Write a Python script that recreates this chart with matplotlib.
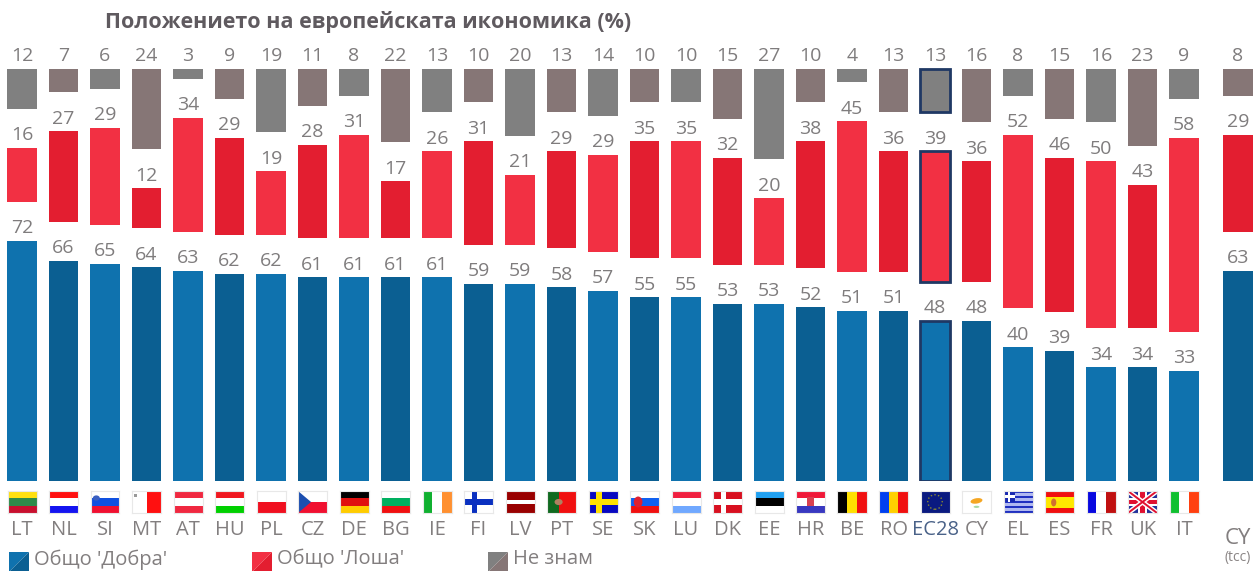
import numpy as np
import matplotlib
matplotlib.use('Agg')
import matplotlib.pyplot as plt
from matplotlib.patches import Polygon, Rectangle, Circle, Ellipse

plt.rcParams['font.family'] = ['Open Sans', 'DejaVu Sans']

# data
countries = ['LT', 'NL', 'SI', 'MT', 'AT', 'HU', 'PL', 'CZ', 'DE', 'BG', 'IE', 'FI', 'LV', 'PT', 'SE',
             'SK', 'LU', 'DK', 'EE', 'HR', 'BE', 'RO', 'EC28', 'CY', 'EL', 'ES', 'FR', 'UK', 'IT', 'CY']
good = [72, 66, 65, 64, 63, 62, 62, 61, 61, 61, 61, 59, 59, 58, 57,
        55, 55, 53, 53, 52, 51, 51, 48, 48, 40, 39, 34, 34, 33, 63]
bad = [16, 27, 29, 12, 34, 29, 19, 28, 31, 17, 26, 31, 21, 29, 29,
       35, 35, 32, 20, 38, 45, 36, 39, 36, 52, 46, 50, 43, 58, 29]
dont_know = [12, 7, 6, 24, 3, 9, 19, 11, 8, 22, 13, 10, 20, 13, 14,
             10, 10, 15, 27, 10, 4, 13, 13, 16, 8, 15, 16, 23, 9, 8]
title = 'Положението на европейската икономика (%)'
legend_labels = ["Общо 'Добра'", "Общо 'Лоша'", 'Не знам']

W, H = 1256, 571
BASE = 481      # y пиксел на нулата
SCALE = 3.34    # пиксела за 1%
PITCH = 41.5
X0 = 22
GAP = 39 / SCALE
TXT = '#7f7c7d'
NAVY = '#1f3864'

BLUE = ['#0f72ae', '#0b5f92']
RED = ['#f23043', '#e31e30']
GREY = ['#808080', '#867676']

fig = plt.figure(figsize=(W / 100, H / 100), dpi=100, facecolor='white')
ax = fig.add_axes([0, (H - BASE) / H, 1, BASE / H])
ax.set_xlim(-X0 / PITCH, (W - X0) / PITCH)
ax.set_ylim(0, BASE / SCALE)
for s in ax.spines.values():
    s.set_visible(False)
ax.yaxis.set_visible(False)

# последната колона (CY tcc) е отделена от останалите
x = np.arange(len(countries), dtype=float)
x[-1] = 29.3
good_a = np.array(good)
bad_a = np.array(bad)
dk_a = np.array(dont_know)
bad_bottom = good_a + GAP
dk_bottom = good_a + bad_a + 2 * GAP
EC = countries.index('EC28')

for i in range(len(x)):
    k = i % 2
    edge = NAVY if i == EC else 'none'
    lw = 2 if i == EC else 0
    ax.bar(x[i], good[i], width=0.71, color=BLUE[k], edgecolor=edge, linewidth=lw)
    ax.bar(x[i], bad[i], bottom=bad_bottom[i], width=0.71, color=RED[k], edgecolor=edge, linewidth=lw)
    ax.bar(x[i], dont_know[i], bottom=dk_bottom[i], width=0.71, color=GREY[k], edgecolor=edge, linewidth=lw)
    for v, b in ((good[i], 0), (bad[i], bad_bottom[i]), (dont_know[i], dk_bottom[i])):
        ax.annotate(str(v), (x[i], b + v), xytext=(0, 5.5), textcoords='offset points',
                    ha='center', va='baseline', fontsize=14, color=TXT)

# подписи
ax.set_xticks(x)
ax.set_xticklabels(countries, fontsize=14.5, color='#827e7f')
ax.tick_params(axis='x', length=0, pad=28)
ax.get_xticklabels()[EC].set_color('#4a6288')
ax.xaxis.get_major_ticks()[-1].set_pad(34)
ax.get_xticklabels()[-1].set_fontsize(16)
ax.annotate('(tcc)', (x[-1], 0), xytext=(0, -55), textcoords='offset points',
            ha='center', va='center', fontsize=10, color='#8a8585', annotation_clip=False)


def stripes(f, cols, vert=False):
    n = len(cols)
    for j, c in enumerate(cols):
        if vert:
            f.add_patch(Rectangle((j / n, 0), 1 / n, 1, color=c, lw=0))
        else:
            f.add_patch(Rectangle((0, 1 - (j + 1) / n), 1, 1 / n, color=c, lw=0))


def cross(f, col, cx=0.36, t=0.2):
    f.add_patch(Rectangle((cx - t / 2, 0), t, 1, color=col, lw=0))
    f.add_patch(Rectangle((0, 0.5 - t * 0.7), 1, t * 1.4, color=col, lw=0))


def draw_flag(f, code):
    if code == 'LT':
        stripes(f, ['#ffe010', '#2e8b4a', '#c8102e'])
    elif code == 'NL':
        stripes(f, ['#ff1010', 'white', '#1414f0'])
    elif code == 'SI':
        stripes(f, ['white', '#1050e0', '#f01030'])
        f.add_patch(Circle((0.2, 0.68), 0.12, color='#3a5fc0', lw=0))
    elif code == 'MT':
        stripes(f, ['white', '#ff1010'], vert=True)
        f.add_patch(Rectangle((0.08, 0.74), 0.1, 0.14, color='#999999', lw=0))
    elif code == 'AT':
        stripes(f, ['#f02840', 'white', '#f02840'])
    elif code == 'HU':
        stripes(f, ['#f01820', 'white', '#00d000'])
    elif code == 'PL':
        stripes(f, ['white', '#f01020'])
    elif code == 'CZ':
        stripes(f, ['white', '#f01030'])
        f.add_patch(Polygon([(0, 0), (0, 1), (0.45, 0.5)], color='#1c4fb0', lw=0))
    elif code == 'DE':
        stripes(f, ['black', '#e01010', '#ffcc00'])
    elif code == 'BG':
        stripes(f, ['white', '#00b060', '#f01010'])
    elif code == 'IE':
        stripes(f, ['#10b030', 'white', '#ff9030'], vert=True)
    elif code == 'FI':
        stripes(f, ['white'])
        cross(f, '#0a30c0')
    elif code == 'LV':
        f.add_patch(Rectangle((0, 0), 1, 1, color='#990000', lw=0))
        f.add_patch(Rectangle((0, 0.42), 1, 0.16, color='white', lw=0))
    elif code == 'PT':
        f.add_patch(Rectangle((0, 0), 1, 1, color='#f01010', lw=0))
        f.add_patch(Rectangle((0, 0), 0.4, 1, color='#106a20', lw=0))
        f.add_patch(Circle((0.4, 0.5), 0.14, color='#b08060', lw=0))
    elif code == 'SE':
        stripes(f, ['#0808c0'])
        cross(f, '#ffe000')
    elif code == 'SK':
        stripes(f, ['white', '#1060f0', '#f01010'])
        f.add_patch(Ellipse((0.28, 0.5), 0.3, 0.5, color='#e02030', lw=0))
    elif code == 'LU':
        stripes(f, ['#f02040', 'white', '#70a8ff'])
    elif code == 'DK':
        stripes(f, ['#d81020'])
        cross(f, 'white')
    elif code == 'EE':
        stripes(f, ['#20a0f0', 'black', 'white'])
    elif code == 'HR':
        stripes(f, ['#f01838', 'white', '#3838c0'])
        f.add_patch(Rectangle((0.38, 0.3), 0.24, 0.45, color='#d84050', lw=0))
    elif code == 'BE':
        stripes(f, ['black', '#ffe000', '#f01010'], vert=True)
    elif code == 'RO':
        stripes(f, ['#0040f0', '#ffd000', '#f01010'], vert=True)
    elif code == 'EC28':
        stripes(f, ['#0a1a80'])
        f.add_patch(Ellipse((0.5, 0.5), 0.5, 0.66, fill=False, ec='#8a8a30', lw=1, ls=':'))
    elif code == 'CY':
        stripes(f, ['white'])
        f.add_patch(Ellipse((0.5, 0.55), 0.42, 0.24, angle=15, color='#f5a623', lw=0))
        f.add_patch(Ellipse((0.5, 0.28), 0.2, 0.1, color='#a8d8a0', lw=0))
    elif code == 'EL':
        stripes(f, ['#2030c0', '#b0b8f0'] * 4 + ['#2030c0'])
        f.add_patch(Rectangle((0, 0.5), 0.4, 0.5, color='#1828b0', lw=0))
        f.add_patch(Rectangle((0.16, 0.5), 0.08, 0.5, color='white', lw=0))
        f.add_patch(Rectangle((0, 0.7), 0.4, 0.1, color='white', lw=0))
    elif code == 'ES':
        f.add_patch(Rectangle((0, 0), 1, 1, color='#f01010', lw=0))
        f.add_patch(Rectangle((0, 0.25), 1, 0.5, color='#ffe800', lw=0))
        f.add_patch(Ellipse((0.3, 0.48), 0.18, 0.36, color='#d07030', lw=0))
    elif code == 'FR':
        stripes(f, ['#0808e0', 'white', '#c01010'], vert=True)
    elif code == 'UK':
        stripes(f, ['#20309a'])
        f.plot([0, 1], [0, 1], color='white', lw=3.5, solid_capstyle='butt')
        f.plot([0, 1], [1, 0], color='white', lw=3.5, solid_capstyle='butt')
        f.plot([0, 1], [0, 1], color='#e01030', lw=1.4, solid_capstyle='butt')
        f.plot([0, 1], [1, 0], color='#e01030', lw=1.4, solid_capstyle='butt')
        f.add_patch(Rectangle((0.36, 0), 0.28, 1, color='white', lw=0))
        f.add_patch(Rectangle((0, 0.32), 1, 0.36, color='white', lw=0))
        f.add_patch(Rectangle((0.42, 0), 0.16, 1, color='#e01030', lw=0))
        f.add_patch(Rectangle((0, 0.4), 1, 0.2, color='#e01030', lw=0))
    elif code == 'IT':
        stripes(f, ['#10c030', 'white', '#ff4010'], vert=True)


# знамена - без последната колона
for i, code in enumerate(countries[:-1]):
    left = (X0 + PITCH * i - 14.5) / W
    f = fig.add_axes([left, (H - 513) / H, 29 / W, 22 / H])
    f.set_xlim(0, 1)
    f.set_ylim(0, 1)
    draw_flag(f, code)
    f.set_xticks([])
    f.set_yticks([])
    for s in f.spines.values():
        s.set_color('#e8e8e8')
        s.set_linewidth(0.8)

# заглавие
fig.text(105 / W, 1 - 22 / H, title, fontsize=15.5, fontweight='bold', color='#5f5a5f', va='center', ha='left')


# легенда - квадратчета с диагонал
def legend_item(px, label, c1, c2):
    size = 20
    y0, y1 = 1 - 552 / H, 1 - (552 + size) / H
    x0, x1 = px / W, (px + size) / W
    fig.add_artist(Polygon([(x0, y1), (x0, y0), (x1, y0)], color=c1, lw=0, transform=fig.transFigure))
    fig.add_artist(Polygon([(x0, y1), (x1, y1), (x1, y0)], color=c2, lw=0, transform=fig.transFigure))
    fig.text((px + 25) / W, 1 - 559.5 / H, label, fontsize=14.5, color='#827e7f', va='center', ha='left')


legend_item(9, legend_labels[0], BLUE[0], BLUE[1])
legend_item(252, legend_labels[1], RED[0], RED[1])
legend_item(488, legend_labels[2], GREY[0], GREY[1])

fig.savefig('out.png', dpi=100)
